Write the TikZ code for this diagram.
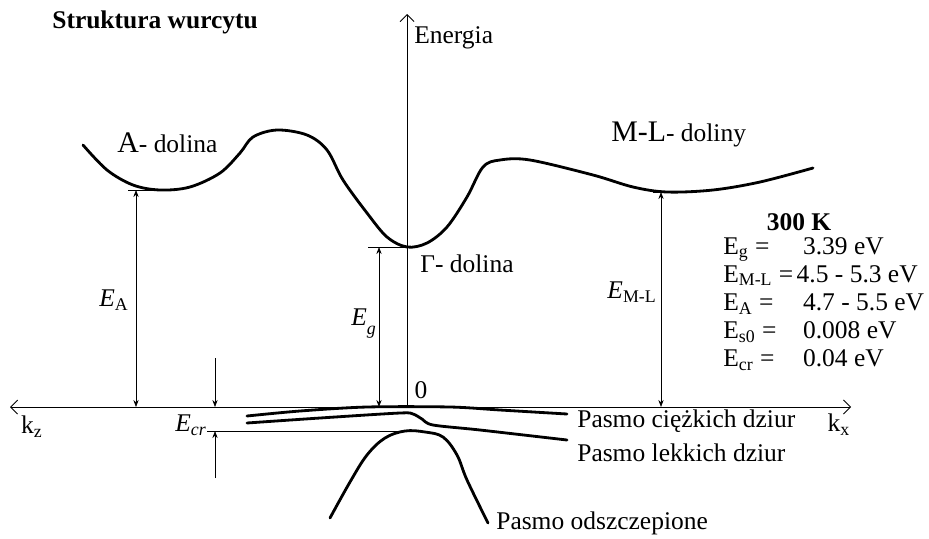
\documentclass[tikz,border=0pt]{standalone}
\usepackage{fontspec}
\setmainfont{Liberation Serif}
\usepackage{tikz}
\usetikzlibrary{arrows.meta,positioning}
\newcommand{\Esub}[2]{\textit{#1}\textsubscript{#2}}
\newcommand{\bigtxt}[1]{{\fontsize{17}{19}\selectfont #1}}

\begin{document}
\begin{tikzpicture}[
    x=0.02cm, y=-0.02cm,
    font=\fontsize{14.5}{16}\selectfont,
    axis/.style={line width=0.5pt},
    band/.style={line width=1.6pt, line cap=round, line join=round},
    tickline/.style={line width=0.4pt},
    dim/.style={line width=0.4pt, {Stealth[length=4pt,width=3pt]}-{Stealth[length=4pt,width=3pt]}},
    lbl/.style={inner sep=0pt}
]
\useasboundingbox (0,0) rectangle (929,538);

% Axes
\coordinate (O) at (407,407);
\coordinate (kzend) at (10,407);
\coordinate (kxend) at (851,407);
\coordinate (Etop) at (407,14);
\draw[axis, {Straight Barb[length=4pt]}-{Straight Barb[length=4pt]}] (kzend) -- (kxend);
\draw[axis, -{Straight Barb[length=4pt]}] (O) -- (Etop);

\node[lbl, anchor=west] (title) at (52,22) {\textbf{Struktura wurcytu}};
\node[lbl, anchor=west] (energia) at (414,38) {Energia};
\node[lbl] (zero) at (421,390) {0};
\node[lbl] (kz) at (32,427) {k\textsubscript{z}};
\node[lbl] (kx) at (839,425) {k\textsubscript{x}};

% Conduction band
\draw[band] plot[smooth, tension=0.55] coordinates {
    (83,145) (107,170) (133,185) (160,190) (190,187) (220,173) (240,153)
    (253,137) (277,130) (307,135) (327,150) (343,180) (367,213) (387,237)
    (407,247) (427,243) (447,227) (467,197) (483,167) (500,160) (530,160)
    (593,175) (633,187) (667,192) (713,190) (760,182) (813,168)};

\node[lbl, anchor=west] (Adol) at (117,143) {\bigtxt{A}- dolina};
\node[lbl, anchor=west] (Gdol) at (420,264) {Γ- dolina};
\node[lbl, anchor=west] (MLdol) at (611,134) {\bigtxt{M-L}- doliny};

% Valence bands
\draw[band] plot[smooth, tension=0.5] coordinates {
    (247,416) (300,411) (367,407) (450,407) (500,410) (567,414)};
\draw[band] plot[smooth, tension=0.5] coordinates {
    (247,423) (320,418) (400,413) (413,414) (422,419) (433,425) (480,430) (567,440)};
\draw[band] plot[smooth, tension=0.6] coordinates {
    (330,518) (350,482) (367,455) (385,438) (405,431) (425,432) (443,437)
    (457,455) (467,480) (488,523)};

\node[lbl, anchor=west] (heavy) at (577,421) {Pasmo ciężkich dziur};
\node[lbl, anchor=west] (light) at (577,453) {Pasmo lekkich dziur};
\node[lbl, anchor=west] (split) at (496,523) {Pasmo odszczepione};

% Energy gaps
\coordinate (Amin) at (136,190);
\coordinate (Abase) at (136,407);
\coordinate (Gmin) at (379,247);
\coordinate (Gbase) at (379,407);
\coordinate (MLmin) at (661,192);
\coordinate (MLbase) at (661,407);
\draw[tickline] (128,190) -- (160,190);
\draw[tickline] (368,247) -- (407,247);
\draw[tickline] (653,192) -- (672,192);
\draw[dim] (Abase) -- (Amin);
\draw[dim] (Gbase) -- (Gmin);
\draw[dim] (MLbase) -- (MLmin);
\node[lbl] (EA) at (114,300) {\Esub{E}{A}};
\node[lbl] (Eg) at (364,324) {\textit{E}\textsubscript{\raisebox{-3pt}{\textit{g}}}};
\node[lbl] (EML) at (632,292) {\Esub{E}{M-L}};

% Crystal field splitting
\coordinate (crtop) at (215,358);
\coordinate (crup) at (215,407);
\coordinate (crlow) at (215,431);
\coordinate (crbot) at (215,478);
\draw[tickline] (207,431) -- (405,431);
\draw[tickline, -{Stealth[length=4pt,width=3pt]}] (crtop) -- (crup);
\draw[tickline, -{Stealth[length=4pt,width=3pt]}] (crbot) -- (crlow);
\node[lbl] (Ecr) at (191,425) {\textit{E}\textsubscript{\textit{cr}}};

% Parameters at 300 K
\node[lbl] (temp) at (799,222) {\textbf{300 K}};
\node[lbl, anchor=north west] (params) at (723,234) {%
    \begin{tabular}{@{}l@{\hspace{2pt}}l@{}}
    E\textsubscript{g} = & \ 3.39 eV\\
    E\textsubscript{M-L} = & 4.5 - 5.3 eV\\
    E\textsubscript{A} = & \ 4.7 - 5.5 eV\\
    E\textsubscript{s0} = & \ 0.008 eV\\
    E\textsubscript{cr} = & \ 0.04 eV
    \end{tabular}};
\end{tikzpicture}
\end{document}
